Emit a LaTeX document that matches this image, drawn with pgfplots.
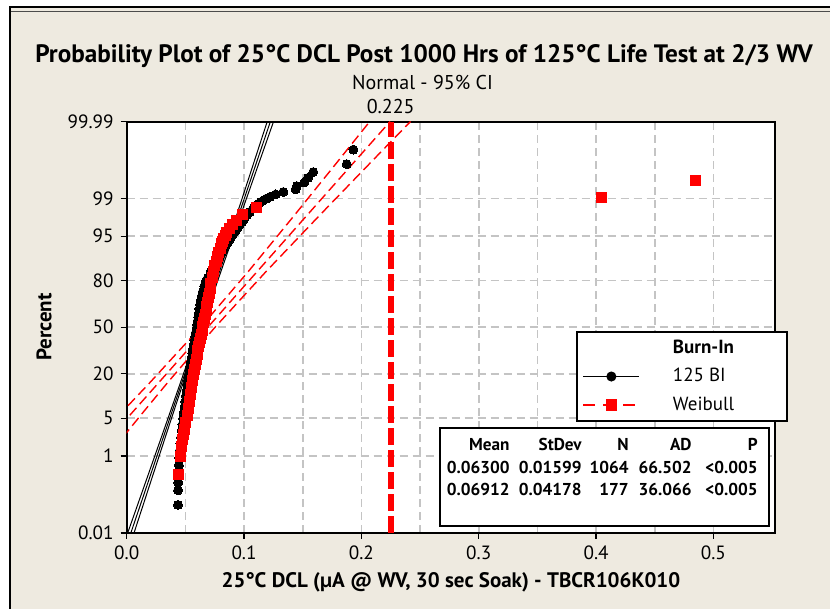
\documentclass[border=0pt]{standalone}
\usepackage{pgfplots}
\pgfplotsset{compat=1.18}
\usepackage{fontspec}
\setmainfont{PT Sans}
\definecolor{panel}{RGB}{238,234,224}
\definecolor{gridgray}{RGB}{196,196,196}
\definecolor{mtred}{RGB}{255,0,0}

% stats table cell: x (right edge), y (baseline), text
\newcommand{\statcell}[3]{\node[anchor=base east, inner sep=0pt, font=\bfseries\fontsize{8.6}{10}\selectfont] at (#1,#2) {#3};}

\begin{document}
\begin{tikzpicture}[x=1pt,y=1pt]
\path[use as bounding box] (0,0) rectangle (415,304.5);
\fill[white] (0,0) rectangle (415,304.5);
\fill[panel] (4.85,0) rectangle (415,300.75);
\draw[black, line width=1pt] (4.85,0) -- (4.85,300.75) -- (415,300.75);
\draw[black!70, line width=0.5pt] (5.3,298.9) -- (415,298.9);

\begin{axis}[
  at={(63.35pt,38pt)}, anchor=south west,
  scale only axis, width=324.15pt, height=205.75pt,
  xmin=0, xmax=0.5525, ymin=-3.719, ymax=3.719,
  axis background/.style={fill=white},
  axis line style={line width=1pt},
  xtick={0,0.1,0.2,0.3,0.4,0.5},
  xticklabels={0.0,0.1,0.2,0.3,0.4,0.5},
  minor xtick={0.05,0.15,0.25,0.35,0.45},
  ytick={-3.719,-2.3263,-1.6449,-0.8416,0,0.8416,1.6449,2.3263,3.719},
  yticklabels={0.01,1,5,20,50,80,95,99,99.99},
  tick pos=left, tick align=outside,
  major tick length=3pt, minor tick length=0pt,
  tick style={black, line width=0.6pt},
  xmajorgrids, xminorgrids, ymajorgrids,
  grid style={gridgray, line width=0.8pt, dash pattern=on 4pt off 2.5pt},
  ticklabel style={font=\fontsize{9.6}{11}\selectfont},
  clip mode=individual,
  legend style={at={(0.693,0.491)}, anchor=north west,
    draw=black, line width=0.8pt, fill=white,
    font=\fontsize{9.5}{11}\selectfont,
    inner xsep=3pt, inner ysep=2pt, row sep=2pt},
  legend cell align=left,
  legend image code/.code={%
    \draw (0pt,0pt) -- (28pt,0pt);
    \draw plot coordinates {(14pt,0pt)};},
]

% legend
\addlegendimage{empty legend}
\addlegendentry{\hspace*{14.5pt}\textbf{Burn-In}}
\addlegendimage{black, line width=0.6pt, mark=*, mark size=2.2pt}
\addlegendentry{\hspace*{14.5pt}125 BI}
\addlegendimage{mtred, line width=0.6pt, dash pattern=on 6pt off 4pt, mark=square*, mark size=2.5pt, mark options={solid}}
\addlegendentry{\hspace*{14.5pt}\makebox[52pt][l]{Weibull}}

% fitted normal lines with 95% CI, 125 BI
\addplot[forget plot, black, line width=0.5pt] coordinates {(0.00353,-3.719) (0.12247,3.719)};
\addplot[forget plot, black, line width=0.5pt] coordinates {
  (0.00083,-3.719) (0.01278,-3) (0.02936,-2) (0.04583,-1) (0.06204,0)
  (0.07781,1) (0.09332,2) (0.10872,3) (0.11977,3.719)};
\addplot[forget plot, black, line width=0.5pt] coordinates {
  (0.00623,-3.719) (0.01728,-3) (0.03269,-2) (0.04819,-1) (0.06396,0)
  (0.08017,1) (0.09665,2) (0.11322,3) (0.12517,3.719)};

% fitted normal lines with 95% CI, Weibull
\addplot[forget plot, mtred, line width=0.7pt, dash pattern=on 5pt off 2.5pt] coordinates {(-0.0228,-2.2) (0.2245,3.719)};
\addplot[forget plot, mtred, line width=0.7pt, dash pattern=on 5pt off 2.5pt] coordinates {
  (-0.0342,-2.2) (-0.02512,-2) (-0.00254,-1.5) (0.01979,-1) (0.06297,0)
  (0.10335,1) (0.142,2) (0.17999,3) (0.20714,3.719)};
\addplot[forget plot, mtred, line width=0.7pt, dash pattern=on 5pt off 2.5pt] coordinates {
  (-0.01139,-2.2) (-0.00376,-2) (0.01544,-1.5) (0.03489,-1) (0.07528,0)
  (0.11845,1) (0.16336,2) (0.20893,3) (0.24186,3.719)};

% 125 BI data (x, normal score)
\addplot[forget plot, only marks, mark=*, mark size=2.25pt, mark options={black, fill=black, line width=0pt}] coordinates {
  (0.0437,-3.211) (0.0438,-2.948) (0.0439,-2.805) (0.0441,-2.700) (0.0442,-2.618)
  (0.0445,-2.496) (0.0449,-2.361) (0.0453,-2.230) (0.0458,-2.107) (0.0463,-1.992)
  (0.0469,-1.870) (0.0475,-1.761) (0.0481,-1.650) (0.0487,-1.541) (0.0493,-1.440)
  (0.0499,-1.341) (0.0505,-1.238) (0.0511,-1.143) (0.0517,-1.049) (0.0523,-0.959)
  (0.0529,-0.870) (0.0535,-0.786) (0.0541,-0.706) (0.0547,-0.626) (0.0553,-0.548)
  (0.0559,-0.470) (0.0565,-0.393) (0.0571,-0.318) (0.0577,-0.244) (0.0583,-0.171)
  (0.0589,-0.100) (0.0595,-0.029) (0.0600,0.041) (0.0605,0.112) (0.0610,0.184)
  (0.0615,0.256) (0.0620,0.330) (0.0625,0.405) (0.0632,0.484) (0.0640,0.564)
  (0.0650,0.649) (0.0661,0.740) (0.0675,0.830) (0.0690,0.887) (0.0715,0.996)
  (0.0740,1.098) (0.0765,1.190) (0.0790,1.280) (0.0812,1.358) (0.0835,1.440)
  (0.0858,1.518) (0.0880,1.588) (0.0902,1.659) (0.0924,1.728) (0.0942,1.783)
  (0.0962,1.844) (0.0982,1.898) (0.1002,1.958) (0.1025,2.026) (0.1050,2.086)
  (0.1080,2.153) (0.1105,2.203) (0.1125,2.232) (0.1140,2.262) (0.1165,2.292)
  (0.1190,2.325) (0.1225,2.361) (0.1270,2.401) (0.1335,2.445) (0.1440,2.494)
  (0.1450,2.551) (0.1515,2.618) (0.1545,2.700) (0.1590,2.805) (0.1875,2.948)
  (0.1932,3.211)};

% Weibull data (x, normal score)
\addplot[forget plot, only marks, mark=square*, mark size=2.5pt, mark options={mtred, fill=mtred, line width=0pt}] coordinates {
  (0.0440,-2.657) (0.0458,-2.342) (0.0468,-2.164) (0.0476,-2.036) (0.0484,-1.935)
  (0.0490,-1.850) (0.0505,-1.713) (0.0516,-1.601) (0.0525,-1.464) (0.0533,-1.350)
  (0.0542,-1.221) (0.0552,-1.083) (0.0561,-0.965) (0.0569,-0.858) (0.0577,-0.759)
  (0.0585,-0.668) (0.0592,-0.582) (0.0600,-0.500) (0.0607,-0.422) (0.0615,-0.346)
  (0.0622,-0.272) (0.0630,-0.199) (0.0637,-0.128) (0.0643,-0.056) (0.0648,0.014)
  (0.0655,0.085) (0.0662,0.156) (0.0668,0.228) (0.0676,0.301) (0.0683,0.376)
  (0.0690,0.454) (0.0697,0.533) (0.0704,0.616) (0.0711,0.704) (0.0718,0.797)
  (0.0727,0.900) (0.0738,1.011) (0.0750,1.110) (0.0762,1.192) (0.0775,1.283)
  (0.0785,1.350) (0.0797,1.424) (0.0810,1.506) (0.0818,1.553) (0.0828,1.601)
  (0.0840,1.654) (0.0852,1.712) (0.0875,1.777) (0.0905,1.850) (0.0937,1.935)
  (0.0985,2.036) (0.1108,2.164) (0.405,2.343) (0.485,2.657)};

% reference line
\addplot[forget plot, mtred, line width=3pt, dash pattern=on 8.5pt off 2.5pt] coordinates {(0.225,-3.719) (0.225,3.719)};
\end{axis}

% titles and labels
\node[anchor=base, font=\bfseries\fontsize{12.6}{15}\selectfont] at (212,273) {Probability Plot of 25°C DCL Post 1000 Hrs of 125°C Life Test at 2/3 WV};
\node[anchor=base, font=\fontsize{10}{12}\selectfont] at (211.25,259.5) {Normal - 95\% CI};
\node[anchor=base, font=\fontsize{10}{12}\selectfont] at (195.35,247.5) {0.225};
\node[anchor=base, font=\bfseries\fontsize{10.5}{12}\selectfont] at (225.5,10.5) {25°C DCL (µA @ WV, 30 sec Soak) - TBCR106K010};
\node[rotate=90, font=\bfseries\fontsize{10.5}{12}\selectfont] at (22,141) {Percent};

% statistics table
\draw[black, line width=1pt, fill=white] (220,41.5) rectangle (384.5,90.5);
\statcell{255}{79}{Mean}\statcell{291}{79}{StDev}\statcell{314.5}{79}{N}\statcell{346}{79}{AD}\statcell{379}{79}{P}
\statcell{255}{67.5}{0.06300}\statcell{291}{67.5}{0.01599}\statcell{314.5}{67.5}{1064}\statcell{346}{67.5}{66.502}\statcell{379}{67.5}{<0.005}
\statcell{255}{56.5}{0.06912}\statcell{291}{56.5}{0.04178}\statcell{314.5}{56.5}{177}\statcell{346}{56.5}{36.066}\statcell{379}{56.5}{<0.005}
\end{tikzpicture}
\end{document}
